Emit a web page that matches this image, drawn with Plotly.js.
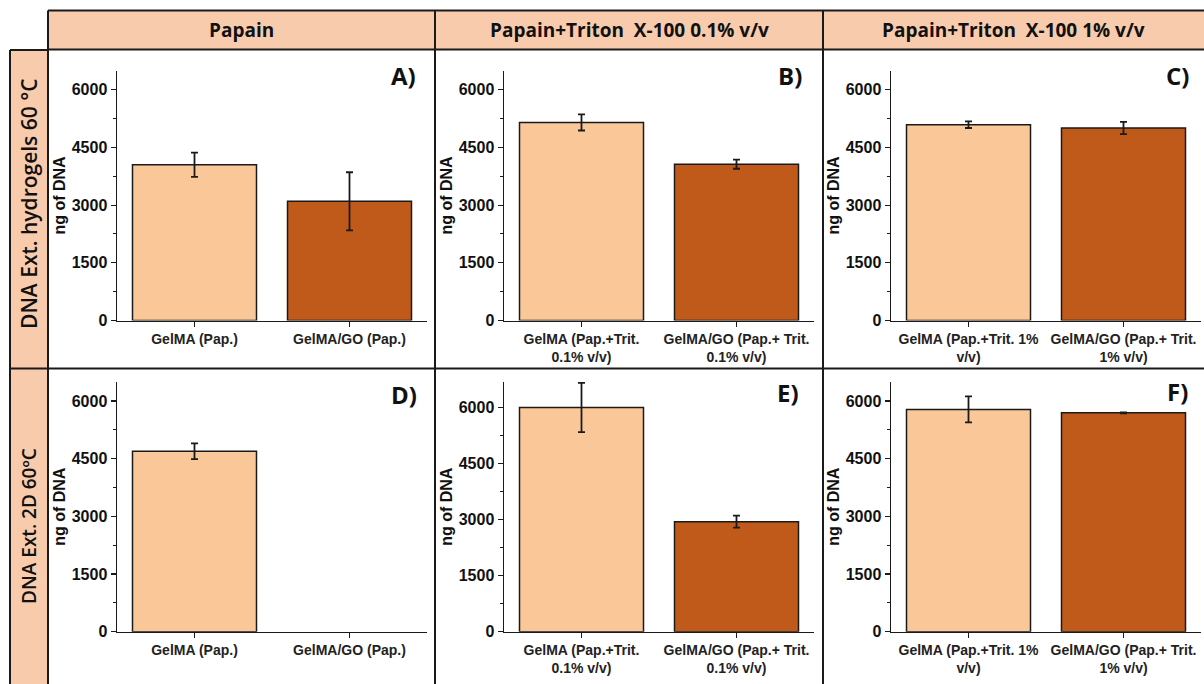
<!DOCTYPE html>
<html>
<head>
<meta charset="utf-8">
<script src="https://cdn.plot.ly/plotly-3.0.1.min.js"></script>
<style>html,body{margin:0;padding:0;background:#fff;}#chart{width:1204px;height:684px;}</style>
</head>
<body>
<div id="chart"></div>
<script>
// ---- data ----
const columnHeaders = ["Papain", "Papain+Triton  X-100 0.1% v/v", "Papain+Triton  X-100 1% v/v"];
const rowHeaders = ["DNA Ext. hydrogels 60 °C", "DNA Ext. 2D 60ºC"];
const panelLetters = ["A)", "B)", "C)", "D)", "E)", "F)"];
const yTitle = "ng of DNA";

const catsPapain = ["GelMA (Pap.)", "GelMA/GO (Pap.)"];
const catsTrit01 = ["GelMA (Pap.+Trit.<br>0.1% v/v)", "GelMA/GO (Pap.+ Trit.<br>0.1% v/v)"];
const catsTrit1 = ["GelMA (Pap.+Trit. 1%<br>v/v)", "GelMA/GO (Pap.+ Trit.<br>1% v/v)"];

const valuesA = [4050, 3100];  const errorsA = [315, 755];
const valuesB = [5150, 4065];  const errorsB = [210, 120];
const valuesC = [5090, 5005];  const errorsC = [85, 160];
const valuesD = [4690, null];  const errorsD = [205, 0];
const valuesE = [6010, 2950];  const errorsE = [660, 160];
const valuesF = [5780, 5690];  const errorsF = [340, 15];

const yMaxTop = 6500, yMaxE = 6700;

// ---- styling / layout ----
const W = 1204, H = 684;
const px = x => x / W;
const py = y => 1 - y / H;
const barColors = ["#FAC898", "#C05A1A"];
const peach = "#F8CBAD";
const ink = "#1a1a1a";

const colX = [[117, 427], [504, 814], [891, 1201]];
const rowY = [[70.5, 320.5], [381.7, 631.7]];

const panels = [
  {cats: catsPapain, v: valuesA, e: errorsA, r: 0, c: 0, ymax: yMaxTop},
  {cats: catsTrit01, v: valuesB, e: errorsB, r: 0, c: 1, ymax: yMaxTop},
  {cats: catsTrit1,  v: valuesC, e: errorsC, r: 0, c: 2, ymax: yMaxTop},
  {cats: catsPapain, v: valuesD, e: errorsD, r: 1, c: 0, ymax: yMaxTop},
  {cats: catsTrit01, v: valuesE, e: errorsE, r: 1, c: 1, ymax: yMaxE},
  {cats: catsTrit1,  v: valuesF, e: errorsF, r: 1, c: 2, ymax: yMaxTop}
];

const tickFont = {family: "Liberation Sans, Arial, sans-serif", size: 16, color: "#111", weight: "bold"};
const catFont = {family: "Liberation Sans, Arial, sans-serif", size: 14, color: "#222", weight: "bold"};

const traces = [];
const layout = {
  width: W, height: H,
  margin: {l: 0, r: 0, t: 0, b: 0},
  paper_bgcolor: "#fff", plot_bgcolor: "rgba(0,0,0,0)",
  showlegend: false,
  bargap: 0.2,
  shapes: [], annotations: []
};

panels.forEach((p, i) => {
  const n = i + 1;
  const xa = n === 1 ? "x" : "x" + n;
  const ya = n === 1 ? "y" : "y" + n;
  traces.push({
    type: "bar", x: p.cats, y: p.v, xaxis: xa, yaxis: ya,
    marker: {color: barColors, line: {color: ink, width: 1.5}},
    error_y: {type: "data", array: p.e, visible: true, color: ink, thickness: 1.8, width: 3.5},
    width: 0.8, hoverinfo: "x+y"
  });
  const cx = colX[p.c], ry = rowY[p.r];
  layout["xaxis" + (n === 1 ? "" : n)] = {
    domain: [px(cx[0]), px(cx[1])], anchor: ya,
    type: "category", range: [-0.5, 1.5],
    showline: true, linecolor: ink, linewidth: 1.5,
    ticks: "outside", ticklen: 5, tickwidth: 1.2, tickcolor: ink,
    showgrid: false, zeroline: false, tickfont: catFont, fixedrange: true
  };
  layout["yaxis" + (n === 1 ? "" : n)] = {
    domain: [py(ry[1]), py(ry[0])], anchor: xa,
    range: [0, p.ymax], tickmode: "linear", tick0: 0, dtick: 1500,
    showline: true, linecolor: ink, linewidth: 1.5,
    ticks: "outside", ticklen: 5, tickwidth: 1.2, tickcolor: ink,
    minor: {dtick: 750, ticks: "outside", ticklen: 3, tickwidth: 1, tickcolor: ink},
    showgrid: false, zeroline: false, tickfont: tickFont, fixedrange: true,
    title: {text: yTitle, font: {family: "Liberation Sans, Arial, sans-serif", size: 16, color: "#111", weight: "bold"}, standoff: 2}
  };
});

// grid boxes
const S = layout.shapes;
const line = (x0, y0, x1, y1) => S.push({type: "line", xref: "paper", yref: "paper",
  x0: px(x0), y0: py(y0), x1: px(x1), y1: py(y1), line: {color: ink, width: 2}});
S.push({type: "rect", xref: "paper", yref: "paper", x0: px(48), x1: px(1204), y0: py(49.5), y1: py(10.5),
  fillcolor: peach, line: {width: 0}, layer: "below"});
S.push({type: "rect", xref: "paper", yref: "paper", x0: px(10), x1: px(48), y0: py(684), y1: py(50),
  fillcolor: peach, line: {width: 0}, layer: "below"});
line(48, 10.5, 1204, 10.5);
line(48, 49.5, 1204, 49.5);
line(10, 50, 48, 50);
line(10, 50, 10, 684);
line(48, 10.5, 48, 684);
line(435, 10.5, 435, 684);
line(823, 10.5, 823, 684);
line(10, 368.5, 1204, 368.5);

// headers
const A = layout.annotations;
const colCenters = [241.5, 629, 1013];
columnHeaders.forEach((t, i) => A.push({
  text: t, xref: "paper", yref: "paper", x: px(colCenters[i]), y: py(30), xanchor: "center", yanchor: "middle",
  showarrow: false, font: {family: "Open Sans, sans-serif", size: 19, color: "#111", weight: "bold"}
}));
const rowCenters = [204, 526];
const rowSizes = [21, 19];
rowHeaders.forEach((t, i) => A.push({
  text: t, xref: "paper", yref: "paper", x: px(29), y: py(rowCenters[i]), xanchor: "center", yanchor: "middle",
  textangle: -90, showarrow: false, font: {family: "Open Sans, sans-serif", size: rowSizes[i], color: "#111", weight: 600}
}));
const letterPos = [[418, 75], [804, 75], [1191, 75], [419, 394], [801, 392], [1190, 391]];
panelLetters.forEach((t, i) => A.push({
  text: t, xref: "paper", yref: "paper", x: px(letterPos[i][0]), y: py(letterPos[i][1]), xanchor: "right", yanchor: "middle",
  showarrow: false, font: {family: "Open Sans, sans-serif", size: 24, color: "#111", weight: "bold"}
}));

Plotly.newPlot("chart", traces, layout, {displayModeBar: false, staticPlot: true});
</script>
</body>
</html>
